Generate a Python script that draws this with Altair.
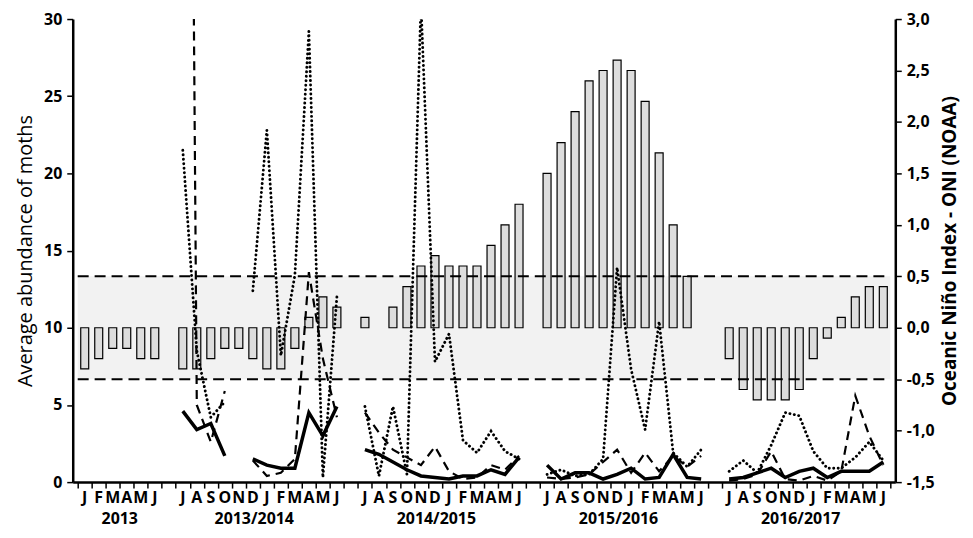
import altair as alt
import pandas as pd

# ---------------- data ----------------
months_2013 = ["J", "F", "M", "A", "M", "J"]
months_season = ["J", "A", "S", "O", "N", "D", "J", "F", "M", "A", "M", "J"]
season_names = ["2013/2014", "2014/2015", "2015/2016", "2016/2017"]
season_start = [7, 20, 33, 46]   # slot index of July of each season (2013 Jan-Jun = slots 0-5)

oni_2013 = [-0.4, -0.3, -0.2, -0.2, -0.3, -0.3]
oni_seasons = [
    [-0.4, -0.4, -0.3, -0.2, -0.2, -0.3, -0.4, -0.4, -0.2, 0.1, 0.3, 0.2],
    [0.1, 0.0, 0.2, 0.4, 0.6, 0.7, 0.6, 0.6, 0.6, 0.8, 1.0, 1.2],
    [1.5, 1.8, 2.1, 2.4, 2.5, 2.6, 2.5, 2.2, 1.7, 1.0, 0.5, 0.0],
    [-0.3, -0.6, -0.7, -0.7, -0.7, -0.6, -0.3, -0.1, 0.1, 0.3, 0.4, 0.4],
]

solid = [
    [4.6, 3.4, 3.8, 1.7, None, 1.5, 1.1, 0.9, 0.9, 4.5, 3.0, 4.9],
    [2.1, 1.8, 1.3, 0.8, 0.4, 0.3, 0.2, 0.4, 0.4, 0.8, 0.5, 1.6],
    [1.1, 0.2, 0.6, 0.6, 0.2, 0.5, 0.9, 0.2, 0.3, 1.8, 0.3, 0.2],
    [0.2, 0.3, 0.6, 0.9, 0.3, 0.7, 0.9, 0.3, 0.7, 0.7, 0.7, 1.3],
]
dashed = [
    [125.0, 5.0, 2.6, 5.9, None, 1.4, 0.4, 0.6, 1.5, 13.6, 8.0, 4.2],
    [4.5, 3.2, 2.1, 1.6, 1.1, 2.3, 0.7, 0.2, 0.3, 1.1, 0.8, 1.7],
    [0.3, 0.2, 0.3, 0.5, 1.3, 2.1, 0.6, 1.9, 0.7, 1.7, 1.0, 1.7],
    [0.1, 0.2, 0.5, 2.0, 0.2, 0.1, 0.4, 0.1, 0.7, 5.6, 3.0, 1.1],
]
dotted = [
    [21.5, 8.5, 4.2, 5.2, None, 12.4, 22.8, 8.2, 13.4, 29.2, 0.3, 12.0],
    [4.9, 0.4, 4.9, 0.5, 31.0, 7.8, 9.6, 2.7, 1.9, 3.3, 2.0, 1.5],
    [0.5, 0.8, 0.4, 0.5, 1.5, 13.9, 7.3, 3.4, 10.4, 1.9, 1.0, 2.1],
    [0.7, 1.4, 0.6, 2.4, 4.5, 4.3, 2.0, 0.9, 0.9, 1.6, 2.6, 1.4],
]

left_ticks = [0, 5, 10, 15, 20, 25, 30]
right_ticks = [-1.5, -1.0, -0.5, 0.0, 0.5, 1.0, 1.5, 2.0, 2.5, 3.0]
band = [-0.5, 0.5]
n_slots = 58

# ---------------- tables ----------------
oni_rows = [{"pos": k + 0.5, "oni": v} for k, v in enumerate(oni_2013)]
for s, start in enumerate(season_start):
    for i, v in enumerate(oni_seasons[s]):
        oni_rows.append({"pos": start + i + 0.5, "oni": v})
oni_df = pd.DataFrame(oni_rows)
oni_df = oni_df[oni_df["oni"] != 0]

line_rows = []
for name, series in [("solid", solid), ("dashed", dashed), ("dotted", dotted)]:
    seg = 0
    for s, start in enumerate(season_start):
        seg += 1
        for i, v in enumerate(series[s]):
            if v is None:
                seg += 1
                continue
            line_rows.append({"series": name, "seg": f"{name}-{seg}",
                              "pos": start + i + 0.5, "val": v})
line_df = pd.DataFrame(line_rows)

month_rows = [{"pos": k + 0.5, "m": m} for k, m in enumerate(months_2013)]
for start in season_start:
    for i, m in enumerate(months_season):
        month_rows.append({"pos": start + i + 0.5, "m": m})
month_df = pd.DataFrame(month_rows)

year_df = pd.DataFrame({"pos": [3.0] + [st + 5.6 for st in season_start],
                        "label": ["2013"] + season_names})

band_df = pd.DataFrame({"lo": [band[0]], "hi": [band[1]], "x0": [0], "x1": [n_slots]})
ref_df = pd.DataFrame({"lev": band, "x0": [0, 0], "x1": [n_slots, n_slots]})

# ---------------- encodings ----------------
FONT = "Open Sans"
W, H = 826, 465

xscale = alt.Scale(domain=[0, n_slots], nice=False, zero=False)
xaxis = alt.Axis(values=list(range(n_slots + 1)), labels=False, title=None, grid=False,
                 tickSize=6, tickWidth=1.5, tickColor="black",
                 domainColor="black", domainWidth=2.5, orient="bottom")

left_axis = alt.Axis(values=left_ticks, format="d", title="Average abundance of moths",
                     orient="left", grid=False, tickSize=6, tickWidth=1.5,
                     titleFontWeight="normal", titleFontSize=20, titlePadding=8)
right_axis = alt.Axis(values=right_ticks, orient="right", grid=False, tickSize=6, tickWidth=1.5,
                      labelExpr="(datum.value < 0 ? '-' : '') + replace(format(abs(datum.value), '.1f'), '.', ',')",
                      title="Oceanic Niño Index - ONI (NOAA)", titleAngle=270, titleBaseline="top",
                      titleFontWeight="bold", titleFontSize=19, titlePadding=6)

yl = alt.Scale(domain=[0, 30], nice=False, zero=True)
yr = alt.Scale(domain=[-1.5, 3.0], nice=False, zero=False)

band_layer = alt.Chart(band_df).mark_rect(color="#f2f2f2").encode(
    x=alt.X("x0:Q", scale=xscale, axis=xaxis), x2="x1:Q",
    y=alt.Y("lo:Q", scale=yr, axis=right_axis), y2="hi:Q")

bars = alt.Chart(oni_df).mark_bar(size=8, fill="#dddddd", stroke="black", strokeWidth=1.2).encode(
    x=alt.X("pos:Q", scale=xscale, axis=xaxis),
    y=alt.Y("oni:Q", scale=yr, axis=right_axis), y2=alt.datum(0))

refs = alt.Chart(ref_df).mark_rule(color="black", strokeWidth=2, strokeDash=[11, 6]).encode(
    x=alt.X("x0:Q", scale=xscale, axis=xaxis), x2="x1:Q",
    y=alt.Y("lev:Q", scale=yr, axis=right_axis))

oni_group = alt.layer(band_layer, bars, refs)


def line_layer(name, **style):
    return alt.Chart(line_df).transform_filter(alt.datum.series == name).mark_line(
        clip=True, color="black", **style).encode(
        x=alt.X("pos:Q", scale=xscale, axis=xaxis),
        y=alt.Y("val:Q", scale=yl, axis=left_axis),
        detail="seg:N")


lines_group = alt.layer(
    line_layer("dotted", strokeWidth=2.9, strokeDash=[0.1, 4.4], strokeCap="round"),
    line_layer("dashed", strokeWidth=2.2, strokeDash=[9, 6]),
    line_layer("solid", strokeWidth=3.5, strokeJoin="miter"),
)

months = alt.Chart(month_df).mark_text(font=FONT, fontSize=16, fontWeight="bold",
                                       baseline="middle", color="black").encode(
    x=alt.X("pos:Q", scale=xscale, axis=xaxis), y=alt.value(H + 16), text="m:N")

years = alt.Chart(year_df).mark_text(font=FONT, fontSize=16, fontWeight="bold",
                                     baseline="middle", color="black").encode(
    x=alt.X("pos:Q", scale=xscale, axis=xaxis), y=alt.value(H + 37), text="label:N")

chart = alt.layer(oni_group, lines_group, months, years).resolve_scale(
    y="independent"
).properties(
    width=W, height=H,
    autosize=alt.AutoSizeParams(type="none"),
    padding={"left": 65, "top": 10, "right": 70, "bottom": 47},
).configure(background="white").configure_view(stroke=None).configure_axis(
    labelFont=FONT, titleFont=FONT, labelFontSize=16, labelFontWeight="bold",
    labelColor="black", titleColor="black", domainColor="black", domainWidth=2.5,
    tickColor="black", labelPadding=5,
)

chart.save("out.html", embed_options={"renderer": "svg", "actions": False})
